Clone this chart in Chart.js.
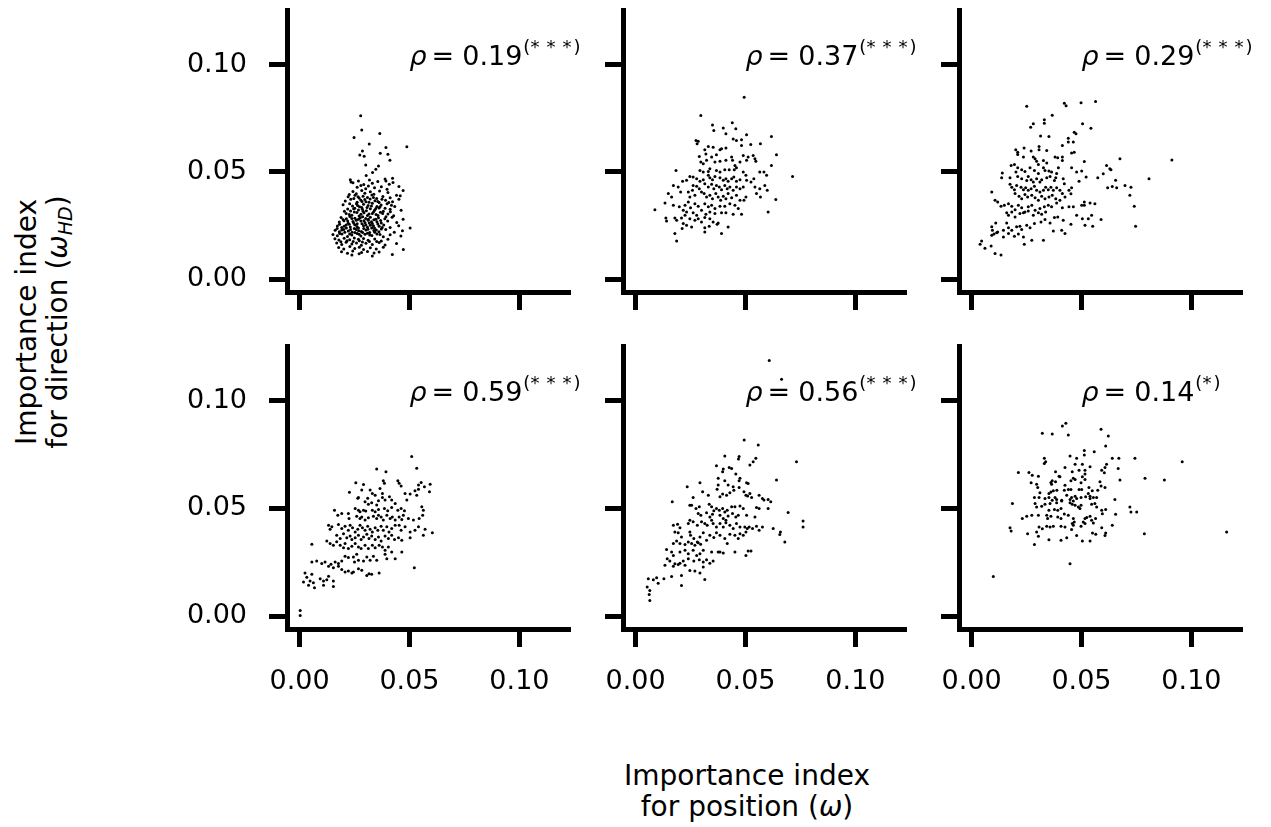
<!DOCTYPE html>
<html lang="en">
<head>
<meta charset="UTF-8">
<title>Importance index: position vs direction</title>
<style>
    body {
        margin: 0;
        width: 1271px;
        height: 827px;
        background: #fff;
        position: relative;
        overflow: hidden;
        font-family: "DejaVu Sans", sans-serif;
        color: #000;
    }
    canvas { position: absolute; }
    .lbl {
        position: absolute;
        width: 400px;
        font-size: 28px;
        line-height: 31px;
        text-align: center;
        white-space: nowrap;
    }
    .lbl sub { font-size: 19px; line-height: 0; vertical-align: -5px; }
    #ylab { left: -158px; top: 291px; height: 62px; transform: rotate(-90deg); }
    #xlab { left: 547px; top: 760px; }
</style>
<script src="https://cdn.jsdelivr.net/npm/chart.js"></script>
</head>
<body>
<div class="lbl" id="ylab">Importance index<br>for direction (<i>ω</i><sub><i>HD</i></sub>)</div>
<div class="lbl" id="xlab">Importance index<br>for position (<i>ω</i>)</div>

<canvas id="c0"></canvas>
<canvas id="c1"></canvas>
<canvas id="c2"></canvas>
<canvas id="c3"></canvas>
<canvas id="c4"></canvas>
<canvas id="c5"></canvas>

<script>
// values, [omega, omega_HD]
const pointsTopLeft = [
[.0278,.0762],[.0283,.0695],[.0248,.0660],[.0365,.0679],[.0317,.0630],[.0488,.0617],[.0393,.0614],[.0286,.0598],[.0274,.0579],[.0367,.0587],[.0402,.0582],[.0294,.0573],[.0411,.0554],[.0301,.0532],[.0359,.0528],[.0347,.0512],[.0332,.0497],[.0303,.0483],[.0423,.0470],[.0393,.0458],[.0234,.0453],
[.0231,.0464],[.0243,.0449],[.0268,.0458],[.0292,.0441],[.0318,.0462],[.0331,.0447],[.0356,.0455],[.0389,.0467],[.0408,.0443],[.0425,.0451],
[.0262,.0428],[.0279,.0437],[.0301,.0422],[.0313,.0434],[.0341,.0426],[.0372,.0431],[.0398,.0419],[.0452,.0432],
[.0243,.0409],[.0258,.0398],[.0283,.0413],[.0297,.0401],[.0322,.0407],[.0338,.0396],[.0364,.0411],[.0402,.0404],[.0458,.0389],[.0471,.0413],
[.0221,.0384],[.0252,.0391],[.0271,.0378],[.0289,.0387],[.0309,.0381],[.0329,.0392],[.0351,.0376],[.0379,.0385],[.0412,.0379],[.0441,.0391],
[.0208,.0364],[.0233,.0372],[.0262,.0358],[.0278,.0369],[.0302,.0361],[.0321,.0374],[.0343,.0366],[.0362,.0357],[.0391,.0368],[.0423,.0361],[.0452,.0373],
[.0198,.0347],[.0241,.0341],[.0259,.0352],[.0273,.0338],[.0291,.0349],[.0312,.0343],[.0331,.0354],[.0352,.0339],[.0371,.0346],[.0398,.0351],[.0433,.0339],
[.0219,.0327],[.0232,.0318],[.0251,.0331],[.0268,.0322],[.0283,.0334],[.0304,.0319],[.0322,.0328],[.0341,.0321],[.0362,.0332],[.0381,.0317],[.0412,.0326],[.0462,.0321],
[.0212,.0306],[.0238,.0298],[.0261,.0311],[.0279,.0302],[.0293,.0309],[.0309,.0297],[.0331,.0306],[.0348,.0301],[.0368,.0312],[.0402,.0304],[.0428,.0296],
[.0189,.0287],[.0213,.0281],[.0229,.0292],[.0252,.0284],[.0268,.0279],[.0287,.0291],[.0301,.0283],[.0322,.0288],[.0338,.0277],[.0359,.0286],[.0388,.0281],[.0421,.0289],[.0471,.0279],
[.0181,.0266],[.0202,.0272],[.0221,.0261],[.0243,.0269],[.0262,.0258],[.0279,.0271],[.0298,.0263],[.0312,.0274],[.0331,.0259],[.0352,.0268],[.0372,.0262],[.0401,.0271],[.0442,.0264],
[.0172,.0248],[.0192,.0241],[.0212,.0252],[.0231,.0243],[.0251,.0254],[.0268,.0239],[.0291,.0249],[.0309,.0242],[.0322,.0251],[.0341,.0238],[.0362,.0247],[.0383,.0253],[.0412,.0241],[.0451,.0249],[.0503,.0238],
[.0162,.0228],[.0181,.0221],[.0201,.0232],[.0222,.0224],[.0239,.0219],[.0258,.0231],[.0281,.0222],[.0302,.0229],[.0319,.0218],[.0338,.0227],[.0361,.0221],[.0392,.0232],[.0431,.0219],[.0468,.0226],
[.0152,.0208],[.0172,.0202],[.0193,.0211],[.0218,.0199],[.0238,.0206],[.0262,.0213],[.0279,.0201],[.0298,.0209],[.0329,.0203],[.0352,.0211],[.0381,.0198],[.0412,.0207],[.0461,.0201],
[.0161,.0188],[.0179,.0182],[.0203,.0191],[.0228,.0184],[.0249,.0192],[.0272,.0179],[.0291,.0189],[.0312,.0181],[.0342,.0187],[.0372,.0178],[.0402,.0186],
[.0169,.0168],[.0192,.0161],[.0212,.0172],[.0238,.0164],[.0259,.0169],[.0281,.0158],[.0302,.0167],[.0331,.0162],[.0362,.0171],[.0389,.0159],[.0441,.0166],
[.0178,.0148],[.0201,.0141],[.0229,.0152],[.0251,.0143],[.0272,.0149],[.0291,.0138],[.0322,.0146],[.0349,.0141],[.0381,.0149],[.0472,.0138],
[.0191,.0128],[.0218,.0121],[.0242,.0131],[.0282,.0124],[.0309,.0129],[.0339,.0122],[.0362,.0127],
[.0238,.0112],[.0271,.0118],[.0331,.0108],[.0422,.0115],
[.0226,.0395],[.0247,.0376],[.0266,.0384],[.0284,.0362],[.0297,.0371],[.0316,.0358],[.0336,.0381],[.0356,.0362],[.0375,.0372],[.0406,.0357],
[.0228,.0351],[.0246,.0328],[.0264,.0343],[.0286,.0326],[.0307,.0334],[.0327,.0341],[.0347,.0329],[.0366,.0338],[.0389,.0331],[.0418,.0345],
[.0204,.0316],[.0226,.0301],[.0249,.0313],[.0271,.0294],[.0289,.0316],[.0316,.0304],[.0337,.0314],[.0357,.0297],[.0378,.0306],[.0413,.0314],
[.0198,.0278],[.0219,.0271],[.0238,.0283],[.0258,.0275],[.0276,.0286],[.0293,.0272],[.0313,.0279],[.0327,.0268],[.0347,.0279],[.0369,.0273],[.0393,.0291],
[.0182,.0256],[.0203,.0247],[.0226,.0256],[.0246,.0262],[.0261,.0246],[.0284,.0258],[.0302,.0252],[.0317,.0262],[.0336,.0249],[.0356,.0257],[.0376,.0241],
[.0171,.0236],[.0192,.0229],[.0213,.0238],[.0232,.0231],[.0249,.0236],[.0269,.0226],[.0292,.0236],[.0311,.0233],[.0328,.0239],[.0349,.0229],[.0372,.0234],
[.0183,.0213],[.0206,.0219],[.0228,.0211],[.0252,.0218],[.0271,.0209],[.0287,.0217],[.0309,.0214],[.0319,.0206],[.0342,.0219],[.0366,.0208],
[.0188,.0174],[.0216,.0179],[.0244,.0176],[.0268,.0186],[.0286,.0173],[.0318,.0176],[.0351,.0176]
];

const pointsTopMid = [
[.0494,.0848],[.0297,.0763],[.0350,.0719],[.0440,.0729],[.0356,.0693],[.0399,.0705],[.0456,.0701],[.0411,.0678],[.0505,.0673],[.0618,.0665],
[.0275,.0647],[.0285,.0643],[.0280,.0631],[.0444,.0654],[.0459,.0646],[.0482,.0650],[.0524,.0628],[.0568,.0631],[.0482,.0623],[.0411,.0612],
[.0331,.0619],[.0353,.0615],[.0384,.0603],[.0391,.0608],[.0315,.0603],[.0320,.0584],[.0641,.0580],[.0368,.0580],[.0346,.0569],[.0323,.0554],
[.0437,.0569],[.0441,.0554],[.0490,.0577],[.0505,.0554],[.0512,.0569],[.0535,.0577],[.0543,.0561],[.0547,.0550],[.0290,.0572],[.0297,.0546],
[.0308,.0538],[.0618,.0530],[.0361,.0546],[.0384,.0550],[.0411,.0554],[.0475,.0546],[.0452,.0530],[.0184,.0507],[.0293,.0507],[.0308,.0499],
[.0331,.0502],[.0338,.0515],[.0368,.0507],[.0384,.0499],[.0406,.0510],[.0426,.0510],[.0449,.0510],[.0459,.0519],[.0490,.0499],[.0502,.0484],
[.0565,.0499],[.0584,.0499],[.0596,.0484],[.0714,.0479],[.0247,.0479],[.0262,.0476],[.0214,.0457],[.0232,.0461],[.0278,.0468],[.0293,.0457],
[.0308,.0464],[.0331,.0484],[.0338,.0473],[.0350,.0464],[.0361,.0479],[.0384,.0473],[.0399,.0461],[.0411,.0468],[.0421,.0457],[.0437,.0468],
[.0447,.0476],[.0459,.0457],[.0475,.0464],[.0505,.0461],[.0525,.0453],[.0538,.0468],[.0172,.0437],[.0194,.0430],[.0205,.0406],[.0262,.0437],
[.0278,.0433],[.0290,.0422],[.0315,.0445],[.0331,.0430],[.0346,.0442],[.0356,.0422],[.0368,.0437],[.0381,.0430],[.0391,.0417],[.0406,.0437],
[.0417,.0422],[.0429,.0430],[.0444,.0414],[.0459,.0430],[.0475,.0422],[.0490,.0430],[.0543,.0430],[.0565,.0422],[.0588,.0437],[.0599,.0414],
[.0149,.0399],[.0164,.0383],[.0134,.0355],[.0240,.0406],[.0259,.0414],[.0247,.0383],[.0270,.0391],[.0300,.0406],[.0312,.0399],[.0323,.0383],
[.0338,.0391],[.0350,.0375],[.0365,.0399],[.0376,.0383],[.0387,.0368],[.0399,.0386],[.0411,.0375],[.0421,.0399],[.0437,.0380],[.0459,.0391],
[.0475,.0368],[.0493,.0368],[.0502,.0383],[.0550,.0399],[.0568,.0383],[.0638,.0371],[.0172,.0344],[.0199,.0337],[.0225,.0344],[.0240,.0360],
[.0250,.0333],[.0270,.0352],[.0285,.0340],[.0315,.0352],[.0331,.0337],[.0346,.0344],[.0361,.0329],[.0384,.0340],[.0406,.0340],[.0429,.0352],
[.0452,.0344],[.0467,.0329],[.0088,.0324],[.0217,.0321],[.0232,.0313],[.0262,.0309],[.0278,.0298],[.0300,.0321],[.0320,.0302],[.0338,.0313],
[.0361,.0306],[.0391,.0309],[.0411,.0309],[.0444,.0302],[.0482,.0302],[.0603,.0313],[.0138,.0285],[.0141,.0271],[.0179,.0285],[.0187,.0274],
[.0209,.0285],[.0225,.0298],[.0247,.0282],[.0270,.0274],[.0285,.0282],[.0300,.0267],[.0315,.0287],[.0338,.0282],[.0353,.0267],[.0376,.0262],
[.0217,.0259],[.0232,.0251],[.0255,.0243],[.0315,.0240],[.0335,.0247],[.0371,.0256],[.0421,.0243],[.0212,.0236],[.0179,.0213],[.0315,.0220],
[.0391,.0213],[.0187,.0178]
];

const pointsTopRight = [
[.0251,.0806],[.0422,.0820],[.0430,.0809],[.0498,.0822],[.0564,.0828],[.0367,.0764],[.0331,.0743],[.0331,.0727],[.0281,.0724],[.0269,.0708],
[.0505,.0724],[.0543,.0704],[.0467,.0685],[.0475,.0678],[.0314,.0667],[.0352,.0665],[.0440,.0657],[.0440,.0639],[.0463,.0639],[.0307,.0619],
[.0307,.0603],[.0201,.0603],[.0210,.0592],[.0210,.0581],[.0239,.0612],[.0271,.0597],[.0342,.0600],[.0413,.0623],[.0455,.0588],[.0467,.0592],
[.0236,.0569],[.0281,.0569],[.0289,.0561],[.0296,.0550],[.0304,.0535],[.0327,.0553],[.0342,.0541],[.0380,.0569],[.0392,.0566],[.0413,.0569],
[.0413,.0553],[.0513,.0549],[.0675,.0561],[.0911,.0556],[.0180,.0530],[.0195,.0535],[.0210,.0519],[.0202,.0499],[.0228,.0510],[.0243,.0502],
[.0266,.0519],[.0286,.0507],[.0304,.0492],[.0327,.0519],[.0334,.0507],[.0352,.0504],[.0364,.0499],[.0395,.0519],[.0387,.0492],[.0455,.0519],
[.0478,.0499],[.0501,.0504],[.0614,.0530],[.0629,.0515],[.0634,.0510],[.0140,.0495],[.0137,.0473],[.0175,.0473],[.0210,.0479],[.0228,.0468],
[.0251,.0460],[.0258,.0479],[.0271,.0464],[.0281,.0453],[.0296,.0468],[.0311,.0453],[.0319,.0464],[.0342,.0473],[.0357,.0479],[.0377,.0460],
[.0383,.0473],[.0417,.0468],[.0422,.0445],[.0489,.0457],[.0521,.0476],[.0574,.0473],[.0599,.0491],[.0655,.0461],[.0640,.0432],[.0619,.0426],
[.0660,.0426],[.0698,.0437],[.0725,.0429],[.0807,.0468],[.0175,.0442],[.0183,.0429],[.0195,.0417],[.0205,.0437],[.0225,.0429],[.0236,.0417],
[.0246,.0426],[.0258,.0414],[.0271,.0422],[.0286,.0433],[.0296,.0414],[.0311,.0406],[.0327,.0414],[.0337,.0429],[.0349,.0417],[.0361,.0429],
[.0372,.0414],[.0387,.0426],[.0402,.0414],[.0443,.0414],[.0452,.0398],[.0455,.0426],[.0092,.0406],[.0198,.0399],[.0216,.0386],[.0228,.0375],
[.0243,.0395],[.0255,.0383],[.0274,.0391],[.0289,.0380],[.0304,.0368],[.0319,.0386],[.0334,.0375],[.0352,.0383],[.0367,.0391],[.0383,.0375],
[.0413,.0399],[.0425,.0383],[.0402,.0368],[.0513,.0360],[.0539,.0355],[.0561,.0352],[.0720,.0391],[.0107,.0368],[.0119,.0360],[.0134,.0340],
[.0149,.0344],[.0168,.0352],[.0183,.0340],[.0198,.0324],[.0213,.0344],[.0228,.0333],[.0243,.0313],[.0258,.0337],[.0274,.0344],[.0289,.0321],
[.0311,.0329],[.0331,.0337],[.0349,.0344],[.0364,.0337],[.0387,.0355],[.0413,.0333],[.0443,.0337],[.0463,.0337],[.0501,.0344],[.0513,.0344],
[.0740,.0340],[.0160,.0309],[.0168,.0298],[.0183,.0313],[.0198,.0290],[.0220,.0306],[.0236,.0309],[.0258,.0318],[.0281,.0298],[.0304,.0309],
[.0319,.0302],[.0337,.0313],[.0478,.0298],[.0504,.0282],[.0531,.0282],[.0546,.0298],[.0589,.0278],[.0092,.0244],[.0095,.0228],[.0110,.0262],
[.0114,.0216],[.0145,.0228],[.0160,.0262],[.0168,.0240],[.0183,.0228],[.0205,.0244],[.0220,.0247],[.0228,.0231],[.0251,.0251],[.0266,.0240],
[.0286,.0259],[.0316,.0267],[.0334,.0278],[.0357,.0262],[.0377,.0287],[.0392,.0290],[.0417,.0275],[.0452,.0256],[.0516,.0251],[.0551,.0247],
[.0746,.0247],[.0092,.0205],[.0102,.0210],[.0119,.0220],[.0145,.0197],[.0168,.0213],[.0195,.0200],[.0213,.0210],[.0236,.0197],[.0274,.0181],
[.0327,.0181],[.0372,.0225],[.0410,.0228],[.0425,.0213],[.0039,.0163],[.0046,.0178],[.0061,.0144],[.0089,.0154],[.0107,.0120],[.0134,.0113],
[.0240,.0163]
];

const pointsBottomLeft = [
[.0510,.0741],[.0533,.0687],[.0351,.0683],[.0393,.0671],[.0381,.0629],[.0386,.0617],[.0447,.0629],[.0453,.0617],[.0462,.0604],[.0553,.0621],
[.0541,.0609],[.0568,.0601],[.0594,.0613],[.0591,.0578],[.0256,.0620],[.0291,.0612],[.0283,.0586],[.0227,.0575],[.0321,.0586],[.0331,.0570],
[.0344,.0562],[.0366,.0593],[.0377,.0570],[.0377,.0551],[.0268,.0551],[.0265,.0547],[.0310,.0547],[.0359,.0536],[.0389,.0539],[.0409,.0554],
[.0419,.0539],[.0435,.0523],[.0480,.0570],[.0503,.0567],[.0525,.0582],[.0541,.0589],[.0533,.0562],[.0488,.0539],[.0298,.0531],[.0313,.0520],
[.0328,.0527],[.0351,.0516],[.0253,.0500],[.0268,.0492],[.0275,.0485],[.0291,.0492],[.0301,.0488],[.0331,.0492],[.0344,.0485],[.0359,.0495],
[.0386,.0500],[.0401,.0489],[.0419,.0505],[.0447,.0492],[.0462,.0500],[.0477,.0489],[.0556,.0508],[.0563,.0492],[.0159,.0492],[.0174,.0469],
[.0192,.0477],[.0222,.0477],[.0225,.0453],[.0260,.0464],[.0275,.0453],[.0283,.0461],[.0298,.0446],[.0313,.0457],[.0336,.0464],[.0351,.0453],
[.0359,.0469],[.0371,.0461],[.0381,.0446],[.0397,.0469],[.0412,.0453],[.0422,.0461],[.0435,.0446],[.0453,.0461],[.0465,.0449],[.0472,.0469],
[.0495,.0453],[.0518,.0446],[.0544,.0453],[.0560,.0469],[.0132,.0422],[.0147,.0415],[.0139,.0403],[.0177,.0426],[.0192,.0407],[.0207,.0418],
[.0222,.0399],[.0230,.0422],[.0241,.0411],[.0253,.0391],[.0265,.0403],[.0275,.0422],[.0286,.0411],[.0298,.0399],[.0310,.0418],[.0321,.0403],
[.0331,.0391],[.0344,.0411],[.0356,.0399],[.0371,.0418],[.0381,.0399],[.0397,.0415],[.0407,.0391],[.0419,.0407],[.0435,.0422],[.0453,.0422],
[.0462,.0399],[.0480,.0415],[.0503,.0391],[.0525,.0399],[.0541,.0415],[.0571,.0403],[.0604,.0387],[.0563,.0376],[.0169,.0376],[.0185,.0360],
[.0200,.0383],[.0215,.0364],[.0230,.0372],[.0238,.0356],[.0253,.0364],[.0268,.0376],[.0280,.0356],[.0291,.0368],[.0306,.0380],[.0316,.0360],
[.0328,.0372],[.0344,.0356],[.0359,.0368],[.0371,.0349],[.0389,.0372],[.0404,.0360],[.0419,.0376],[.0432,.0356],[.0450,.0364],[.0465,.0352],
[.0503,.0364],[.0056,.0334],[.0124,.0349],[.0139,.0337],[.0154,.0329],[.0169,.0345],[.0185,.0329],[.0200,.0318],[.0207,.0337],[.0222,.0314],
[.0238,.0325],[.0253,.0337],[.0268,.0321],[.0280,.0314],[.0298,.0329],[.0313,.0314],[.0331,.0329],[.0344,.0318],[.0362,.0329],[.0377,.0321],
[.0389,.0306],[.0404,.0321],[.0419,.0298],[.0465,.0298],[.0435,.0267],[.0056,.0251],[.0078,.0256],[.0101,.0244],[.0116,.0251],[.0143,.0241],
[.0162,.0251],[.0177,.0244],[.0192,.0256],[.0207,.0278],[.0222,.0272],[.0245,.0275],[.0260,.0287],[.0250,.0251],[.0268,.0259],[.0291,.0256],
[.0306,.0275],[.0321,.0259],[.0336,.0278],[.0351,.0259],[.0389,.0287],[.0397,.0267],[.0132,.0231],[.0154,.0225],[.0177,.0231],[.0192,.0216],
[.0207,.0205],[.0222,.0210],[.0238,.0200],[.0245,.0205],[.0268,.0220],[.0283,.0213],[.0306,.0189],[.0316,.0197],[.0328,.0194],[.0362,.0200],
[.0522,.0225],[.0033,.0181],[.0025,.0200],[.0048,.0163],[.0063,.0155],[.0056,.0194],[.0094,.0174],[.0109,.0163],[.0124,.0169],[.0132,.0185],
[.0154,.0163],[.0154,.0138],[.0109,.0143],[.0018,.0158],[.0041,.0143],[.0068,.0132],[.0003,.0026],[.0003,.0003]
];

const pointsBottomMid = [
[.0608,.1188],[.0664,.1101],[.0494,.0818],[.0558,.0795],[.0732,.0717],[.0406,.0744],[.0471,.0741],[.0468,.0730],[.0547,.0733],[.0535,.0717],
[.0520,.0702],[.0368,.0699],[.0399,.0683],[.0426,.0691],[.0396,.0671],[.0437,.0686],[.0456,.0660],[.0475,.0640],[.0293,.0620],[.0235,.0601],
[.0376,.0640],[.0406,.0629],[.0421,.0609],[.0376,.0609],[.0444,.0601],[.0471,.0629],[.0505,.0620],[.0512,.0616],[.0641,.0632],[.0305,.0578],
[.0331,.0562],[.0262,.0551],[.0371,.0589],[.0384,.0554],[.0396,.0567],[.0414,.0562],[.0429,.0573],[.0447,.0585],[.0471,.0598],[.0493,.0578],
[.0502,.0562],[.0510,.0558],[.0520,.0570],[.0528,.0551],[.0562,.0562],[.0577,.0546],[.0584,.0539],[.0603,.0542],[.0615,.0531],[.0167,.0531],
[.0247,.0515],[.0255,.0515],[.0275,.0500],[.0290,.0508],[.0335,.0520],[.0346,.0508],[.0356,.0489],[.0368,.0500],[.0381,.0492],[.0396,.0500],
[.0406,.0484],[.0417,.0492],[.0437,.0508],[.0452,.0508],[.0475,.0511],[.0490,.0500],[.0550,.0505],[.0562,.0500],[.0603,.0500],[.0694,.0481],
[.0285,.0477],[.0297,.0469],[.0323,.0480],[.0338,.0461],[.0350,.0473],[.0384,.0469],[.0399,.0453],[.0411,.0445],[.0421,.0465],[.0441,.0477],
[.0456,.0461],[.0467,.0469],[.0505,.0469],[.0543,.0461],[.0172,.0422],[.0191,.0427],[.0202,.0411],[.0247,.0445],[.0240,.0430],[.0262,.0438],
[.0281,.0422],[.0300,.0438],[.0315,.0430],[.0326,.0422],[.0346,.0445],[.0353,.0430],[.0368,.0414],[.0384,.0430],[.0399,.0414],[.0411,.0434],
[.0429,.0422],[.0444,.0407],[.0459,.0430],[.0475,.0414],[.0497,.0414],[.0508,.0407],[.0517,.0414],[.0532,.0407],[.0550,.0418],[.0562,.0399],
[.0577,.0414],[.0626,.0407],[.0659,.0391],[.0656,.0379],[.0762,.0442],[.0762,.0414],[.0179,.0391],[.0194,.0387],[.0209,.0368],[.0247,.0391],
[.0250,.0376],[.0265,.0360],[.0281,.0344],[.0293,.0368],[.0308,.0387],[.0323,.0352],[.0338,.0376],[.0356,.0365],[.0368,.0387],[.0384,.0376],
[.0406,.0360],[.0417,.0337],[.0429,.0380],[.0452,.0376],[.0467,.0360],[.0475,.0383],[.0502,.0391],[.0490,.0376],[.0679,.0344],[.0172,.0337],
[.0187,.0349],[.0202,.0337],[.0225,.0333],[.0240,.0344],[.0255,.0337],[.0270,.0329],[.0285,.0341],[.0296,.0334],[.0346,.0298],[.0376,.0298],
[.0384,.0298],[.0399,.0293],[.0452,.0298],[.0502,.0282],[.0512,.0302],[.0525,.0302],[.0141,.0309],[.0164,.0298],[.0172,.0282],[.0202,.0298],
[.0225,.0306],[.0240,.0290],[.0262,.0306],[.0278,.0282],[.0293,.0290],[.0308,.0306],[.0144,.0267],[.0156,.0256],[.0179,.0243],[.0202,.0246],
[.0217,.0256],[.0240,.0267],[.0265,.0256],[.0290,.0262],[.0308,.0251],[.0323,.0262],[.0338,.0246],[.0353,.0256],[.0134,.0236],[.0172,.0231],
[.0194,.0240],[.0225,.0236],[.0247,.0212],[.0270,.0209],[.0293,.0200],[.0308,.0228],[.0315,.0170],[.0058,.0173],[.0081,.0169],[.0096,.0178],
[.0103,.0153],[.0129,.0173],[.0164,.0184],[.0209,.0189],[.0209,.0142],[.0053,.0135],[.0065,.0119],[.0062,.0100],[.0065,.0073]
];

const pointsBottomRight = [
[.0413,.0883],[.0429,.0896],[.0322,.0849],[.0367,.0846],[.0440,.0841],[.0589,.0868],[.0622,.0837],[.0610,.0790],[.0513,.0770],[.0513,.0748],
[.0558,.0764],[.0448,.0744],[.0478,.0733],[.0331,.0733],[.0337,.0717],[.0331,.0709],[.0640,.0733],[.0670,.0733],[.0743,.0733],[.0958,.0717],
[.0471,.0706],[.0504,.0706],[.0539,.0694],[.0425,.0691],[.0614,.0706],[.0607,.0691],[.0667,.0686],[.0382,.0671],[.0213,.0667],[.0261,.0667],
[.0276,.0655],[.0304,.0650],[.0458,.0671],[.0489,.0678],[.0516,.0678],[.0516,.0660],[.0592,.0678],[.0604,.0666],[.0402,.0647],[.0452,.0629],
[.0463,.0640],[.0471,.0635],[.0504,.0647],[.0516,.0635],[.0498,.0619],[.0584,.0624],[.0589,.0604],[.0607,.0598],[.0675,.0632],[.0789,.0640],
[.0877,.0632],[.0271,.0619],[.0296,.0613],[.0301,.0598],[.0361,.0621],[.0367,.0629],[.0382,.0624],[.0364,.0613],[.0398,.0650],[.0425,.0608],
[.0422,.0585],[.0440,.0588],[.0452,.0588],[.0489,.0588],[.0501,.0588],[.0534,.0598],[.0549,.0582],[.0574,.0585],[.0311,.0573],[.0352,.0570],
[.0361,.0577],[.0372,.0582],[.0388,.0585],[.0286,.0551],[.0307,.0551],[.0334,.0546],[.0352,.0551],[.0380,.0551],[.0387,.0542],[.0410,.0538],
[.0433,.0562],[.0448,.0542],[.0455,.0551],[.0463,.0535],[.0471,.0557],[.0478,.0546],[.0498,.0551],[.0519,.0554],[.0531,.0570],[.0539,.0546],
[.0539,.0557],[.0554,.0551],[.0569,.0551],[.0186,.0523],[.0652,.0542],[.0289,.0523],[.0296,.0507],[.0319,.0510],[.0334,.0520],[.0357,.0523],
[.0367,.0538],[.0387,.0527],[.0410,.0535],[.0448,.0527],[.0458,.0520],[.0471,.0515],[.0486,.0507],[.0498,.0515],[.0493,.0500],[.0546,.0520],
[.0561,.0523],[.0569,.0507],[.0592,.0492],[.0610,.0495],[.0720,.0507],[.0725,.0484],[.0751,.0484],[.0251,.0464],[.0274,.0469],[.0304,.0469],
[.0231,.0453],[.0342,.0469],[.0346,.0453],[.0352,.0492],[.0377,.0495],[.0392,.0492],[.0407,.0500],[.0361,.0464],[.0392,.0461],[.0407,.0453],
[.0422,.0474],[.0440,.0469],[.0463,.0453],[.0467,.0437],[.0458,.0430],[.0516,.0453],[.0524,.0458],[.0539,.0464],[.0546,.0445],[.0564,.0453],
[.0595,.0476],[.0655,.0473],[.0307,.0414],[.0322,.0406],[.0342,.0417],[.0357,.0414],[.0372,.0417],[.0407,.0417],[.0425,.0414],[.0463,.0422],
[.0498,.0417],[.0508,.0437],[.0516,.0430],[.0554,.0433],[.0592,.0411],[.0640,.0422],[.0175,.0411],[.0180,.0395],[.0255,.0383],[.0296,.0391],
[.0304,.0371],[.0407,.0352],[.0433,.0364],[.0455,.0402],[.0478,.0375],[.0504,.0349],[.0539,.0349],[.0550,.0386],[.0565,.0380],[.0607,.0375],
[.0610,.0386],[.0352,.0355],[.0286,.0333],[.0786,.0383],[.1160,.0391],[.0448,.0243],[.0099,.0184]
];

const panelPoints = [pointsTopLeft, pointsTopMid, pointsTopRight, pointsBottomLeft, pointsBottomMid, pointsBottomRight];
const rhoValues = ['0.19', '0.37', '0.29', '0.59', '0.56', '0.14'];
const rhoStars = [3, 3, 3, 3, 3, 1];
const rhoAnchor = [0.05, 0.10];
const tickValues = [0, 0.05, 0.10];
const xRange = [-0.0057, 0.1230];
const yRange = [-0.0060, 0.1255];

// layout of the 2x3 grid (plot-area boxes)
const colLeft = [287, 623, 959];
const rowTop = [10, 346];
const rowHeight = [282, 283];
const areaW = 283;
const padL = 130, padR = 30, padT = 10, padB = 80;
const FONT = '"DejaVu Sans"';

// draws the matplotlib-like "rho = 0.19^(***)" annotation
const rhoPlugin = {
    id: 'rho',
    afterDraw(chart, args, opts) {
        const ctx = chart.ctx;
        let px = chart.scales.x.getPixelForValue(rhoAnchor[0]);
        const py = chart.scales.y.getPixelForValue(rhoAnchor[1]);
        ctx.save();
        ctx.fillStyle = '#000';
        ctx.textAlign = 'left';
        ctx.textBaseline = 'alphabetic';
        ctx.font = 'italic 27px ' + FONT;
        ctx.fillText('ρ', px, py);
        px += ctx.measureText('ρ').width + 5;
        ctx.font = '27px ' + FONT;
        ctx.fillText('=', px, py);
        px += ctx.measureText('=').width + 8;
        ctx.fillText(opts.value, px, py);
        px += ctx.measureText(opts.value).width + 1;
        ctx.font = '18px ' + FONT;
        const sy = py - 12;
        ctx.fillText('(', px, sy);
        px += ctx.measureText('(').width;
        for (let i = 0; i < opts.stars; i++) {
            ctx.fillText('*', px, sy);
            px += ctx.measureText('*').width + (i < opts.stars - 1 ? 7 : 2);
        }
        ctx.fillText(')', px, sy);
        ctx.restore();
    }
};

function axisOptions(range, showLabels, isX) {
    return {
        type: 'linear',
        min: range[0],
        max: range[1],
        afterBuildTicks: s => { s.ticks = tickValues.map(v => ({ value: v })); },
        afterFit: s => {
            // fixed box sizes so every plot area lands on the same grid
            if (isX) s.height = padB; else s.width = padL;
            s.paddingTop = 0; s.paddingBottom = 0;
            s.paddingLeft = 0; s.paddingRight = 0;
        },
        grid: { drawOnChartArea: false, drawTicks: true, tickLength: 18, tickWidth: 5, tickColor: '#000' },
        border: { display: true, color: '#000', width: 5 },
        ticks: {
            display: showLabels,
            autoSkip: false,
            maxRotation: 0,
            color: '#000',
            padding: isX ? 19 : 22,
            font: { family: 'DejaVu Sans', size: 27 },
            callback: v => v.toFixed(2)
        }
    };
}

panelPoints.forEach((pts, i) => {
    const col = i % 3, row = Math.floor(i / 3);
    const canvas = document.getElementById('c' + i);
    canvas.width = padL + areaW + padR;
    canvas.height = padT + rowHeight[row] + padB;
    canvas.style.left = (colLeft[col] - padL) + 'px';
    canvas.style.top = (rowTop[row] - padT) + 'px';

    new Chart(canvas, {
        type: 'scatter',
        data: {
            datasets: [{
                data: pts.map(p => ({ x: p[0], y: p[1] })),
                pointRadius: 1.5,
                pointHoverRadius: 1.5,
                pointBorderWidth: 0,
                pointBackgroundColor: '#000'
            }]
        },
        options: {
            responsive: false,
            animation: false,
            events: [],
            layout: { padding: { left: 0, right: padR, top: padT, bottom: 0 } },
            plugins: {
                legend: { display: false },
                tooltip: { enabled: false },
                rho: { value: rhoValues[i], stars: rhoStars[i] }
            },
            scales: {
                x: axisOptions(xRange, row === 1, true),
                y: axisOptions(yRange, col === 0, false)
            }
        },
        plugins: [rhoPlugin]
    });
});
</script>
</body>
</html>
